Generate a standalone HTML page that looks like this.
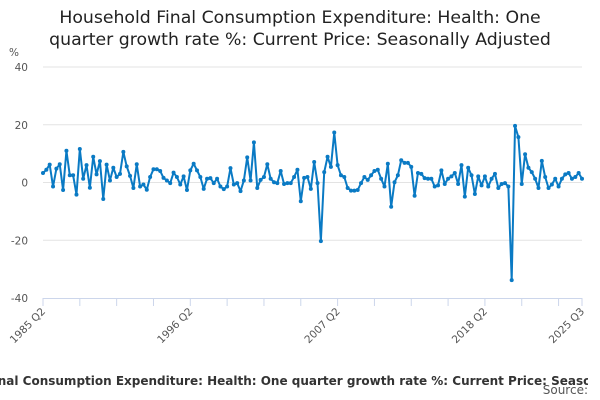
<!DOCTYPE html>
<html><head><meta charset="utf-8">
<style>
html,body{margin:0;padding:0;width:600px;height:400px;overflow:hidden;background:#fff;font-family:"DejaVu Sans","Liberation Sans",sans-serif;}
#title{position:absolute;left:0;top:7px;width:600px;text-align:center;font-size:17.3px;line-height:22px;color:#222;}
#footwrap{position:absolute;left:0;top:374px;width:588px;height:18px;overflow:hidden;}
#foot{position:absolute;left:299px;top:0;white-space:nowrap;transform:translateX(-50%);font-size:12px;font-weight:bold;color:#333;}
#src{position:absolute;right:12px;top:383px;font-size:12px;color:#555;}
svg{position:absolute;left:0;top:0;}
</style></head><body>
<div id="title">Household Final Consumption Expenditure: Health: One<br>quarter growth rate %: Current Price: Seasonally Adjusted</div>
<svg id="chart" width="600" height="400"></svg>
<div id="footwrap"><div id="foot">Household Final Consumption Expenditure: Health: One quarter growth rate %: Current Price: Seasonally Adjusted</div></div>
<div id="src">Source:</div>
<script>
const yTicks=[40,20,0,-20,-40];
const xLabels=["1985 Q2","1996 Q2","2007 Q2","2018 Q2","2025 Q3"];
const xLabelIdx=[0,44,88,132,161];
const values=[3.3,4.4,6.2,-1.4,4.8,6.3,-2.6,11,2.5,2.5,-4.2,11.6,1.3,6,-1.8,8.9,2.8,7.4,-5.7,6.2,0.7,5.1,1.9,3,10.6,5.6,2.3,-1.9,6.3,-1.4,-0.7,-2.5,1.9,4.6,4.6,4,1.6,0.7,-0.2,3.4,
1.9,-0.7,2.1,-2.6,4.2,6.5,4.2,1.9,-2.2,1.3,1.5,-0.2,1.3,-1.4,-2.3,-1.4,5,-0.7,-0.2,-3,0.7,8.7,0.7,13.9,-1.9,0.9,1.9,6.3,1.3,0.1,-0.2,4,-0.5,-0.2,-0.2,1.9,4.4,-6.5,1.6,1.9,
-2.2,7.1,-0.2,-20.3,3.6,8.9,5.4,17.3,6,2.5,1.9,-1.9,-2.8,-2.8,-2.6,-0.2,1.9,0.9,2.5,4,4.4,1.3,-1.4,6.5,-8.4,0.1,2.5,7.7,6.8,6.8,5.4,-4.6,3.3,3,1.5,1.3,1.3,-1.4,-1,4.2,
-0.5,1.3,2.1,3.3,-0.5,6,-4.9,5.1,2.5,-4,2.1,-1,2.1,-1.4,1.3,3,-1.9,-0.5,-0.2,-1.4,-33.8,19.6,15.7,-0.5,9.8,5.1,3.6,1.3,-1.9,7.5,1.9,-1.9,-0.7,1.3,-1.4,1.3,2.8,3.3,1.3,1.9,3.3,1.3];
const NS="http://www.w3.org/2000/svg";
const svg=document.getElementById('chart');
const L=43,R=582,T=67,B=298,yMin=-40,yMax=40;
const n=values.length;
const xS=i=>L+(R-L)*i/(n-1);
const yS=v=>B-(v-yMin)/(yMax-yMin)*(B-T);
const FF='DejaVu Sans, Liberation Sans, sans-serif';
function mk(t,a){const e=document.createElementNS(NS,t);for(const k in a)e.setAttribute(k,a[k]);svg.appendChild(e);return e;}
yTicks.forEach(v=>{
  if(v!==-40){const g=mk('line',{x1:L,x2:R,y1:yS(v),y2:yS(v),stroke:'#e3e3e3','stroke-width':1});
  
  }
  const t=mk('text',{x:28,y:yS(v)+4,'text-anchor':'end','font-size':10.5,fill:'#555','font-family':FF});
  t.textContent=v;
  
  
});
const u=mk('text',{x:9,y:56,'font-size':10.5,fill:'#555','font-family':FF});u.textContent='%';


const ax=mk('line',{x1:L,x2:R,y1:B+0.5,y2:B+0.5,stroke:'#ccd6eb','stroke-width':1});


for(let i=0;i<n;i+=11){const tk=mk('line',{x1:xS(i),x2:xS(i),y1:B,y2:B+8,stroke:'#ccd6eb'});

}
const lt=mk('line',{x1:xS(n-1),x2:xS(n-1),y1:B,y2:B+8,stroke:'#ccd6eb'});


xLabels.forEach((s,k)=>{
  const x=xS(xLabelIdx[k]);
  const t=mk('text',{x:x+3,y:B+14,'text-anchor':'end','font-size':10.5,fill:'#555','font-family':FF,transform:`rotate(-45 ${x+3} ${B+14})`});
  t.textContent=s;
  
  
});
const p=mk('polyline',{points:values.map((v,i)=>xS(i)+','+yS(v)).join(' '),fill:'none',stroke:'#0a7ac4','stroke-width':2,'stroke-linejoin':'round'});


values.forEach((v,i)=>{const c=mk('circle',{cx:xS(i),cy:yS(v),r:2,fill:'#0a7ac4'});

});
</script>
</body></html>
